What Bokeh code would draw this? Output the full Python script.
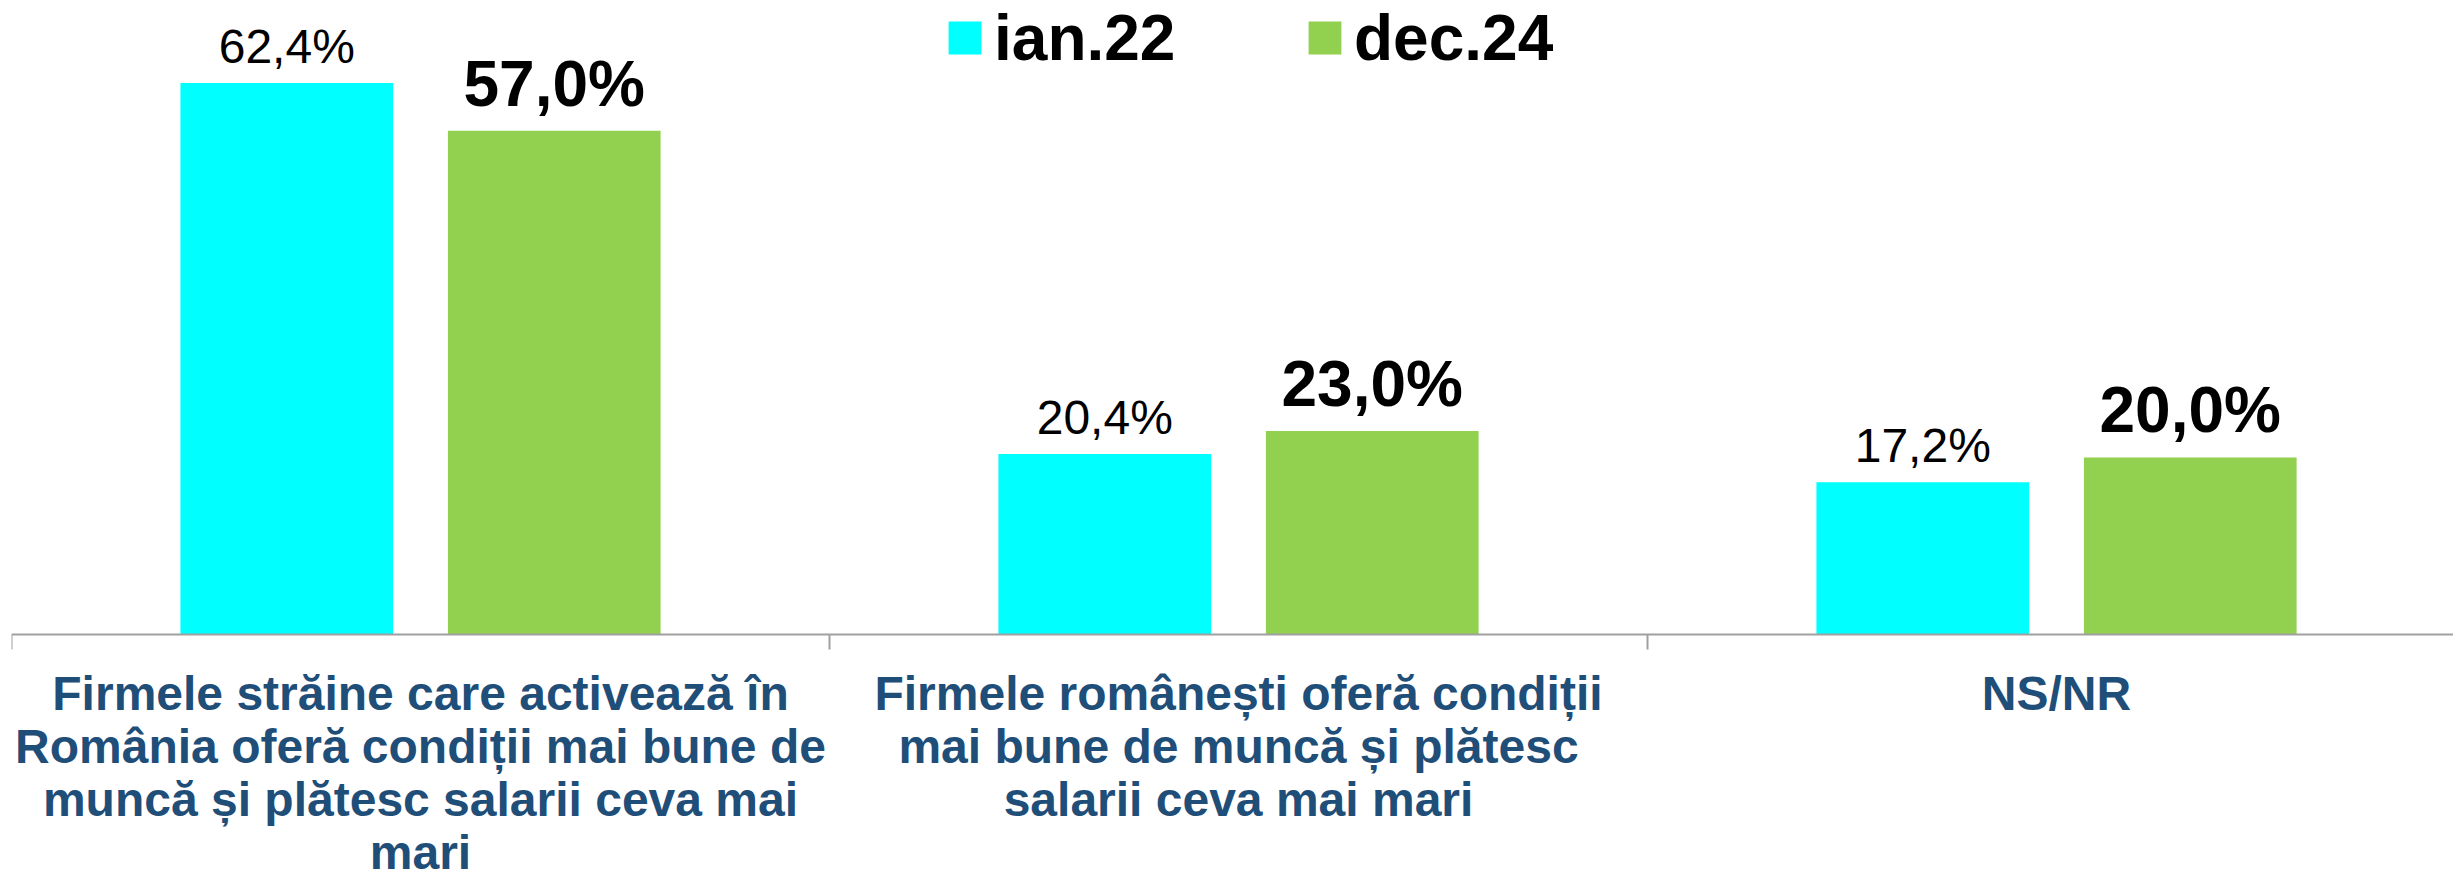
from bokeh.plotting import figure
from bokeh.models import Range1d, LinearAxis, FixedTicker, Legend, LegendItem, ColumnDataSource
from bokeh.transform import dodge
from bokeh.core.properties import value
from bokeh.embed import file_html
from bokeh.resources import INLINE

# ---- data ----
categories = [
    "Firmele străine care activează în\nRomânia oferă condiții mai bune de\nmuncă și plătesc salarii ceva mai\nmari",
    "Firmele românești oferă condiții\nmai bune de muncă și plătesc\nsalarii ceva mai mari",
    "NS/NR",
]
series_names = ["ian.22", "dec.24"]
ian22 = [62.4, 20.4, 17.2]
dec24 = [57.0, 23.0, 20.0]

# ---- styles ----
CYAN = "#00FFFF"
GREEN = "#92D050"
LABEL_BLUE = "#1F4E79"
AXIS_GREY = "#A0A0A0"
FONT = "Liberation Sans"
OFFSET = 0.1635
BAR_W = 0.26


def fmt(v):
    return f"{v:.1f}".replace(".", ",") + "%"


xc = [i + 0.5 for i in range(len(categories))]
src = ColumnDataSource(dict(
    x=xc, ian22=ian22, dec24=dec24,
    l1=[fmt(v) for v in ian22], l2=[fmt(v) for v in dec24],
))

p = figure(width=2453, height=878, output_backend="svg", toolbar_location=None,
           x_range=Range1d(0, 2.9853), y_range=Range1d(-27.68, 71.75),
           x_axis_type=None, y_axis_type=None,
           min_border_left=11, min_border_right=0, min_border_top=0, min_border_bottom=0)
p.outline_line_color = None
p.background_fill_color = "white"
p.border_fill_color = "white"

r1 = p.vbar(x=dodge("x", -OFFSET), top="ian22", width=BAR_W, source=src,
            fill_color=CYAN, line_color=None)
r2 = p.vbar(x=dodge("x", OFFSET), top="dec24", width=BAR_W, source=src,
            fill_color=GREEN, line_color=None)

p.text(x=dodge("x", -OFFSET), y="ian22", text="l1", source=src,
       text_align="center", text_baseline="alphabetic", y_offset=-36.5,
       text_font=value(FONT), text_font_size="48px", text_color="black")
p.text(x=dodge("x", OFFSET), y="dec24", text="l2", source=src,
       text_align="center", text_baseline="alphabetic", y_offset=-47,
       text_font=value(FONT), text_font_style="bold", text_font_size="64px",
       text_color="black")

ax = LinearAxis(fixed_location=0,
                ticker=FixedTicker(ticks=xc, minor_ticks=list(range(len(categories) + 1))))
ax.major_label_overrides = {x: c for x, c in zip(xc, categories)}
ax.axis_line_color = AXIS_GREY
ax.axis_line_width = 2
ax.major_tick_line_color = None
ax.major_tick_out = 15
ax.major_tick_in = 0
ax.minor_tick_line_color = AXIS_GREY
ax.minor_tick_line_width = 2
ax.minor_tick_out = 15
ax.minor_tick_in = 0
ax.major_label_standoff = 18
ax.major_label_text_font = FONT
ax.major_label_text_font_style = "bold"
ax.major_label_text_font_size = "48px"
ax.major_label_text_color = LABEL_BLUE
ax.major_label_text_line_height = 1.0
p.add_layout(ax, "below")

legend = Legend(
    items=[LegendItem(label=value(series_names[0]), renderers=[r1]),
           LegendItem(label=value(series_names[1]), renderers=[r2])],
    orientation="horizontal", location=(933, 799.5),
    glyph_width=41, glyph_height=41, label_standoff=9, spacing=120,
    label_width=190, label_height=82, padding=0, margin=0,
    border_line_color=None, background_fill_alpha=0,
    label_text_font=FONT, label_text_font_style="bold",
    label_text_font_size="64px", label_text_color="black",
    label_text_baseline="alphabetic",
)
p.add_layout(legend)

open("out.html", "w", encoding="utf-8").write(file_html(p, INLINE))
